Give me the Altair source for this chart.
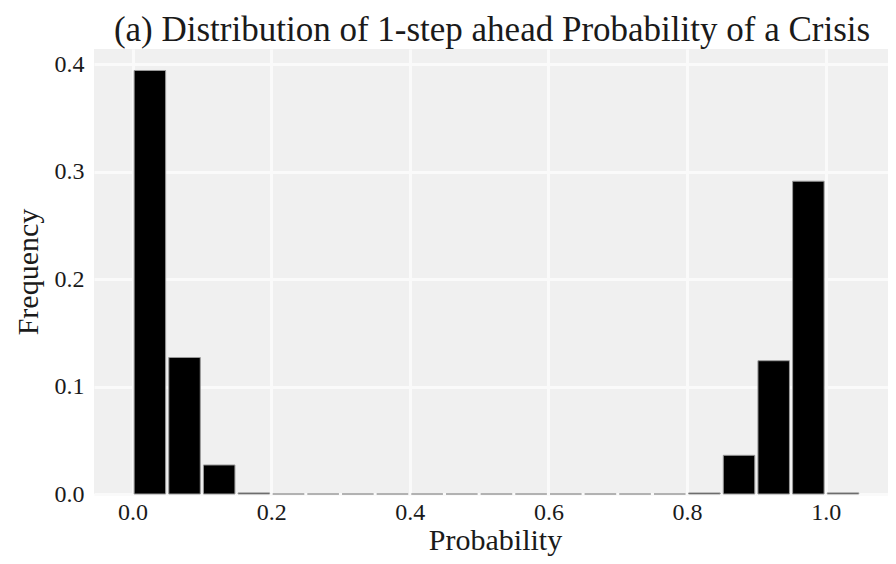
import altair as alt
import pandas as pd

# Histogram bins (centres) and relative frequencies
bin_centers = [0.025, 0.075, 0.125, 0.175, 0.225, 0.275, 0.325, 0.375, 0.425, 0.475,
               0.525, 0.575, 0.625, 0.675, 0.725, 0.775, 0.825, 0.875, 0.925, 0.975, 1.025]
frequencies = [0.394, 0.127, 0.027, 0.001, 0.0, 0.0, 0.0, 0.0, 0.0, 0.0,
               0.0, 0.0, 0.0, 0.0, 0.0, 0.0, 0.001, 0.036, 0.124, 0.291, 0.001]
x_ticks = [0.0, 0.2, 0.4, 0.6, 0.8, 1.0]
y_ticks = [0.0, 0.1, 0.2, 0.3, 0.4]

df = pd.DataFrame({"Probability": bin_centers, "Frequency": frequencies})

FONT = "Liberation Serif"
TXT = "#1a1a1a"

chart = alt.Chart(df).mark_bar(
    size=31.5, color="black", stroke="#9a9a9a", strokeWidth=1
).encode(
    x=alt.X("Probability:Q",
            scale=alt.Scale(domain=[-0.0484, 1.0827], nice=False, zero=False),
            axis=alt.Axis(values=x_ticks, format=".1f", title="Probability",
                          ticks=False, tickSize=0, domain=False,
                          labelPadding=6, labelFontSize=24, labelFont=FONT, labelColor=TXT,
                          titleFont=FONT, titleFontSize=30, titleFontWeight="normal",
                          titleColor=TXT, titleBaseline="alphabetic",
                          titleX=401, titleY=55,
                          grid=True, gridColor="#fafafa", gridWidth=3)),
    y=alt.Y("Frequency:Q",
            scale=alt.Scale(domain=[0, 0.414], nice=False),
            axis=alt.Axis(values=y_ticks, format=".1f", title="Frequency",
                          ticks=False, tickSize=0, domain=False,
                          labelPadding=10, labelFontSize=24, labelFont=FONT, labelColor=TXT,
                          titleFont=FONT, titleFontSize=30, titleFontWeight="normal",
                          titleColor=TXT, titleBaseline="alphabetic", titleAngle=270,
                          titleX=-57, titleY=222.5,
                          grid=True, gridColor="#fafafa", gridWidth=3)),
).properties(
    width=794, height=445,
    padding={"left": 86, "top": 41, "right": 0, "bottom": 62},
    autosize=alt.AutoSizeParams(type="none"),
    title=alt.TitleParams("(a) Distribution of 1-step ahead Probability of a Crisis",
                          font=FONT, fontSize=35, fontWeight="normal", color=TXT,
                          anchor="middle", frame="group", offset=1, dx=1),
).configure_view(fill="#f0f0f0", stroke=None)

chart.save("out.html", embed_options={"renderer": "svg", "actions": False})
